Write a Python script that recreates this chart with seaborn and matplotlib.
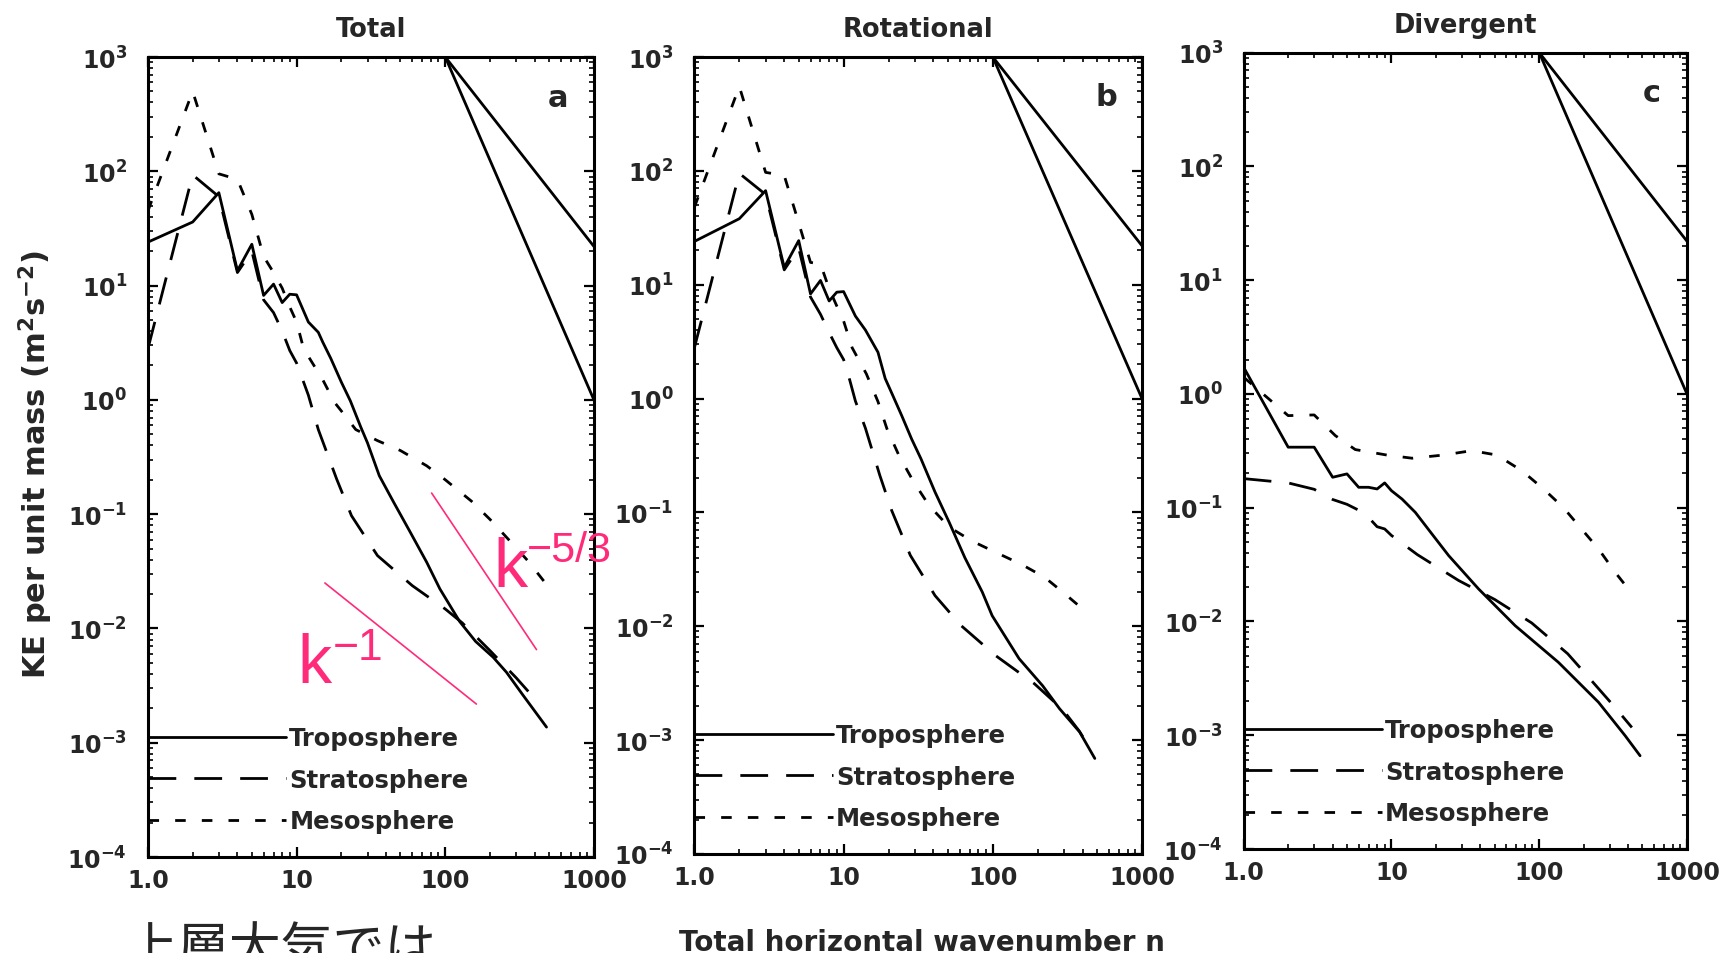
import numpy as np
import pandas as pd
import matplotlib
matplotlib.use('Agg')
import matplotlib.pyplot as plt
import seaborn as sns
from matplotlib.lines import Line2D
from matplotlib.ticker import FixedLocator, FixedFormatter, LogLocator, NullFormatter

sns.set_style('ticks')
plt.rcParams['font.family'] = ['DejaVu Sans']
plt.rcParams['font.weight'] = 'bold'
plt.rcParams['mathtext.fontset'] = 'dejavusans'

# ---------------- data ----------------
layers = ['Troposphere', 'Stratosphere', 'Mesosphere']
panel_titles = ['Total', 'Rotational', 'Divergent']
panel_letters = ['a', 'b', 'c']
xtick_values = [1, 10, 100, 1000]
xtick_labels = ['1.0', '10', '100', '1000']
ytick_exponents = [-4, -3, -2, -1, 0, 1, 2, 3]

# Panel a: Total
tropo_a_k = [1, 2, 3, 4, 5, 6, 7, 8, 9, 10, 12, 14, 15, 17, 20, 23, 27, 30, 36, 45, 58, 75, 92, 125, 160, 210, 258, 334, 480]
tropo_a_E = [24, 36, 65, 13.5, 23, 8.2, 10.3, 7.1, 8.4, 8.3, 4.8, 3.9, 3.2, 2.3, 1.43, 0.98, 0.58, 0.42, 0.217, 0.127, 0.07, 0.038, 0.0222, 0.0115, 0.0077, 0.0056, 0.00414, 0.0026, 0.00137]
strat_a_k = [1, 2, 3, 4, 5, 6, 7, 8, 9, 10, 11, 12, 14, 18.6, 23.4, 35, 60, 100, 130, 200, 300, 420]
strat_a_E = [2.8, 93, 60, 13, 20, 7.5, 5.8, 4.0, 2.7, 2.1, 1.5, 1.1, 0.55, 0.203, 0.097, 0.0434, 0.0237, 0.0148, 0.0112, 0.0064, 0.0037, 0.00226]
meso_a_k = [1, 2, 3, 4, 5, 6, 7, 8, 9, 10, 11, 12, 15, 18, 20, 25, 35, 50, 75, 100, 150, 200, 280, 360, 460]
meso_a_E = [45, 500, 95, 85, 42, 18, 13, 9.5, 6.5, 4.8, 3.0, 2.4, 1.5, 0.95, 0.8, 0.55, 0.44, 0.36, 0.265, 0.2, 0.13, 0.09, 0.056, 0.039, 0.026]

# Panel b: Rotational
tropo_b_k = [1, 2, 3, 4, 5, 6, 7, 8, 9, 10, 12, 14, 17, 19, 21, 24.5, 28.6, 33, 41, 51, 65, 85, 99, 150, 216, 280, 382, 483]
tropo_b_E = [24, 38, 67, 14.2, 24.4, 8.3, 10.9, 7.2, 8.6, 8.7, 5.3, 4.0, 2.55, 1.5, 1.12, 0.71, 0.44, 0.296, 0.151, 0.082, 0.04, 0.02, 0.0124, 0.0052, 0.0030, 0.00189, 0.00118, 0.00069]
strat_b_k = [1, 2, 3, 4, 5, 6, 7, 8, 9, 10, 11, 12, 14, 17.5, 21, 28, 41, 61, 104, 190, 295, 380, 440]
strat_b_E = [2.8, 95, 62, 13.5, 21, 7.8, 5.5, 3.8, 2.8, 2.2, 1.45, 0.95, 0.55, 0.211, 0.104, 0.042, 0.0186, 0.0102, 0.00555, 0.00313, 0.00185, 0.0012, 0.00088]
meso_b_k = [1, 2, 3, 4, 5, 6, 7, 8, 9, 10, 11.4, 14.2, 17, 19.5, 23.5, 29.3, 37.4, 51, 72.6, 107, 156, 222, 298, 424]
meso_b_E = [48, 550, 97, 91, 35, 15.7, 15.2, 9.2, 6.5, 4.8, 2.8, 1.65, 0.94, 0.545, 0.316, 0.188, 0.115, 0.0743, 0.056, 0.044, 0.0349, 0.027, 0.0197, 0.0133]

# Panel c: Divergent
tropo_c_k = [1, 2, 3, 4, 5, 6, 7, 8, 9, 10, 11.8, 14.5, 18.8, 24.4, 38.9, 68.8, 135, 252, 382, 482]
tropo_c_E = [1.71, 0.34, 0.34, 0.185, 0.198, 0.151, 0.151, 0.146, 0.165, 0.141, 0.119, 0.091, 0.0587, 0.0379, 0.0193, 0.00918, 0.00437, 0.00195, 0.00099, 0.00066]
strat_c_k = [1, 2, 3, 4, 5, 6, 7, 8, 9, 10, 15, 28.5, 50, 89, 156, 227, 327, 424]
strat_c_E = [0.18, 0.165, 0.145, 0.118, 0.107, 0.095, 0.082, 0.068, 0.065, 0.057, 0.0386, 0.0229, 0.0156, 0.0097, 0.0052, 0.003, 0.00175, 0.00117]
meso_c_k = [1, 2, 3, 4.17, 5.69, 9.3, 13.8, 22.5, 35, 51.7, 76.4, 107, 146, 189, 252, 327, 435]
meso_c_E = [1.4, 0.644, 0.653, 0.43, 0.324, 0.29, 0.272, 0.29, 0.317, 0.29, 0.211, 0.146, 0.10, 0.0673, 0.0434, 0.027, 0.0169]

# Reference slope lines (k^-5/3 and k^-3) drawn in every panel
ref_k = [100, 1000]
ref_shallow_E = [1000, 22]
ref_steep_E = [1000, 1.0]

# Pink guide lines and labels (panel a)
pink_k1_k = [15.5, 162]
pink_k1_E = [0.025, 0.00218]
pink_k53_k = [81, 411]
pink_k53_E = [0.153, 0.00653]
annot_base = ['k', 'k']
annot_sup = ['\u22121', '\u22125/3']
annot_k = [10.05, 210]
annot_E = [0.0034, 0.0235]

bottom_note = '上層大気では'

# ---------------- build long table ----------------
series = {
    ('Total', 'Troposphere'): (tropo_a_k, tropo_a_E),
    ('Total', 'Stratosphere'): (strat_a_k, strat_a_E),
    ('Total', 'Mesosphere'): (meso_a_k, meso_a_E),
    ('Rotational', 'Troposphere'): (tropo_b_k, tropo_b_E),
    ('Rotational', 'Stratosphere'): (strat_b_k, strat_b_E),
    ('Rotational', 'Mesosphere'): (meso_b_k, meso_b_E),
    ('Divergent', 'Troposphere'): (tropo_c_k, tropo_c_E),
    ('Divergent', 'Stratosphere'): (strat_c_k, strat_c_E),
    ('Divergent', 'Mesosphere'): (meso_c_k, meso_c_E),
}
rows = []
for (panel, layer), (ks, es) in series.items():
    for k, e in zip(ks, es):
        rows.append({'panel': panel, 'layer': layer, 'k': k, 'E': e})
df = pd.DataFrame(rows)

# ---------------- styling ----------------
PINK = '#ff2a7a'
LW = 2.0
dash_map = {'Troposphere': '', 'Stratosphere': (10, 6.5), 'Mesosphere': (3.8, 5.8)}
sup_sizes = [32, 31]
sup_offsets = [(25.5, 16.5), (24, 18)]

fig = plt.figure(figsize=(17.3, 9.54), dpi=100)
positions = [[0.0855, 0.1006, 0.2578, 0.8386],
             [0.4014, 0.1038, 0.2587, 0.8354],
             [0.7189, 0.1090, 0.2562, 0.8349]]

for i, title in enumerate(panel_titles):
    ax = fig.add_axes(positions[i])
    sub = df[df['panel'] == title]
    sns.lineplot(data=sub, x='k', y='E', style='layer', style_order=layers,
                 dashes=dash_map, color='black', linewidth=LW,
                 estimator=None, sort=False, legend=False, ax=ax)
    ax.plot(ref_k, ref_shallow_E, color='black', lw=LW)
    ax.plot(ref_k, ref_steep_E, color='black', lw=LW)

    ax.set_xscale('log')
    ax.set_yscale('log')
    ax.set_xlim(1, 1000)
    ax.set_ylim(1e-4, 1e3)
    ax.set_xlabel('')
    ax.set_ylabel('')

    ax.xaxis.set_major_locator(FixedLocator(xtick_values))
    ax.xaxis.set_major_formatter(FixedFormatter(xtick_labels))
    ax.xaxis.set_minor_locator(LogLocator(base=10, subs=np.arange(2, 10)))
    ax.xaxis.set_minor_formatter(NullFormatter())
    ax.yaxis.set_major_locator(FixedLocator([10.0 ** e for e in ytick_exponents]))
    ax.yaxis.set_major_formatter(FixedFormatter([r'$\mathbf{10^{%d}}$' % e for e in ytick_exponents]))
    ax.yaxis.set_minor_locator(LogLocator(base=10, subs=np.arange(2, 10)))
    ax.yaxis.set_minor_formatter(NullFormatter())

    ax.tick_params(which='both', direction='in', top=True, right=True, color='black')
    ax.tick_params(which='major', length=7, width=1.6)
    ax.tick_params(which='minor', length=3.5, width=1.2)
    ax.tick_params(axis='y', which='major', pad=15, labelsize=17)
    ax.tick_params(axis='x', which='major', pad=8, labelsize=17)
    for lab in ax.get_xticklabels():
        lab.set_fontweight('bold')
    for sp in ax.spines.values():
        sp.set_linewidth(2.2)
        sp.set_color('black')

    ax.set_title(title, fontsize=18.5, fontweight='bold', pad=15)
    ax.text(0.92, 0.95, panel_letters[i], transform=ax.transAxes, ha='center', va='center',
            fontsize=22, fontweight='bold')

    handles = [Line2D([], [], color='black', lw=LW, linestyle='-'),
               Line2D([], [], color='black', lw=LW, dashes=dash_map['Stratosphere']),
               Line2D([], [], color='black', lw=LW, dashes=dash_map['Mesosphere'])]
    ax.legend(handles, layers, loc='lower left', bbox_to_anchor=(0, 0.03), frameon=False,
              handlelength=5.7, handletextpad=0.12, labelspacing=0.72, borderpad=0,
              borderaxespad=0, prop={'weight': 'bold', 'size': 17.5})

    if i == 0:
        ax.plot(pink_k1_k, pink_k1_E, color=PINK, lw=1.2)
        ax.plot(pink_k53_k, pink_k53_E, color=PINK, lw=1.2)
        for base, sup, kx, ey, ss, off in zip(annot_base, annot_sup, annot_k, annot_E,
                                              sup_sizes, sup_offsets):
            ax.text(kx, ey, base, color=PINK, fontsize=49, fontweight='normal',
                    family='Liberation Sans', ha='left', va='baseline', clip_on=False)
            ax.annotate(sup, xy=(kx, ey), xytext=off, textcoords='offset points',
                        color=PINK, fontsize=ss, fontweight='normal',
                        family='Liberation Sans', ha='left', va='baseline',
                        annotation_clip=False)

fig.text(0.0208, 0.5126, r'KE per unit mass (m$^{\mathbf{2}}$s$^{\mathbf{-2}}$)',
         rotation=90, ha='center', va='center', fontsize=22, fontweight='bold')
fig.text(0.533, 0.003, 'Total horizontal wavenumber n', ha='center', va='baseline',
         fontsize=20, fontweight='bold')
fig.text(0.0725, 1 - 966 / 954, bottom_note, fontsize=37.4, fontweight='normal',
         family=['Noto Sans CJK JP', 'DejaVu Sans'], ha='left', va='baseline')

fig.savefig('out.png', dpi=100, facecolor='white')
